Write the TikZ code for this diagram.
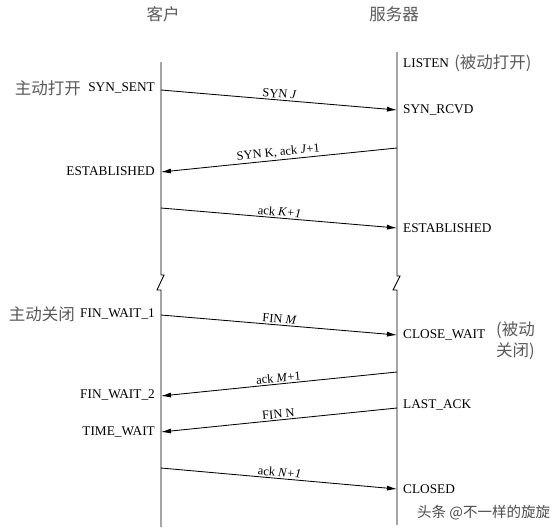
\documentclass[tikz,border=0pt]{standalone}
\usepackage{fontspec}
\setmainfont{Liberation Serif}
\newfontfamily\cjk{Noto Sans CJK SC}
\usetikzlibrary{arrows.meta}

\begin{document}
\begin{tikzpicture}[x=1pt,y=-1pt,
    state/.style={font=\fontsize{13.3}{15}\selectfont,inner sep=0pt},
    msg/.style={-{Latex[length=10pt,width=5pt]},line width=0.85pt},
    tag/.style={font=\fontsize{12.5}{14}\selectfont,above=1.5pt,sloped,inner sep=0pt},
    zh/.style={font=\cjk\fontsize{16.5}{21}\selectfont,text=black!65,inner sep=0pt},
    life/.style={line width=0.9pt}]
      \useasboundingbox (0,0) rectangle (559,531);
      \node[zh] (client) at (163,14) {客户};
      \node[zh] (server) at (394,14) {服务器};
      \draw[life] (161,62) -- (161,275) -- ++(3,0) -- ++(-7,15) -- ++(4,0) -- (161,527);
      \draw[life] (397,52) -- (397,276) -- ++(3,0) -- ++(-7,14) -- ++(4,0) -- (397,525);
      \coordinate (c1) at (161,90);
      \coordinate (s1) at (397,110);
      \coordinate (s2) at (397,148);
      \coordinate (c2) at (161,172);
      \coordinate (c3) at (161,208);
      \coordinate (s3) at (397,228);
      \coordinate (c4) at (161,315);
      \coordinate (s4) at (397,335);
      \coordinate (s5) at (397,372);
      \coordinate (c5) at (161,396);
      \coordinate (s6) at (397,408);
      \coordinate (c6) at (161,432);
      \coordinate (c7) at (161,468);
      \coordinate (s7) at (397,489);
      \node[state,anchor=west] (listen) at (403,63) {LISTEN};
      \node[zh,anchor=west] (passopen) at ([xshift=5pt]listen.east) {(被动打开)};
      \node[state,anchor=east] (synsent) at (155,88) {SYN\_SENT};
      \node[zh,anchor=east] (actopen) at ([xshift=-7pt]synsent.west) {主动打开};
      \node[state,anchor=west] (synrcvd) at (403,110) {SYN\_RCVD};
      \node[state,anchor=east] (estc) at (155,171) {ESTABLISHED};
      \node[state,anchor=west] (ests) at (403,228) {ESTABLISHED};
      \node[state,anchor=east] (finw1) at (155,314) {FIN\_WAIT\_1};
      \node[zh,anchor=east] (actclose) at ([xshift=-5pt]finw1.west) {主动关闭};
      \node[state,anchor=west] (closew) at (403,335) {CLOSE\_WAIT};
      \node[zh,anchor=north west,align=left] (passclose) at (496,321) {(被动\\关闭)};
      \node[state,anchor=east] (finw2) at (155,395) {FIN\_WAIT\_2};
      \node[state,anchor=west] (lastack) at (403,405) {LAST\_ACK};
      \node[state,anchor=east] (timew) at (155,432) {TIME\_WAIT};
      \node[state,anchor=west] (closed) at (403,489) {CLOSED};
      \draw[msg] (c1) -- node[tag] {SYN \textit{J}} (s1);
      \draw[msg] (s2) -- node[tag] {SYN K, ack \textit{J}+1} (c2);
      \draw[msg] (c3) -- node[tag] {ack \textit{K+1}} (s3);
      \draw[msg] (c4) -- node[tag] {FIN \textit{M}} (s4);
      \draw[msg] (s5) -- node[tag] {ack \textit{M}+1} (c5);
      \draw[msg] (s6) -- node[tag] {FIN N} (c6);
      \draw[msg] (c7) -- node[tag] {ack \textit{N+1}} (s7);
      \node[zh,font=\cjk\fontsize{14.5}{16}\selectfont,text=black!70,anchor=west] (mark) at (417,513) {头条 @不一样的旋旋};
\end{tikzpicture}
\end{document}
